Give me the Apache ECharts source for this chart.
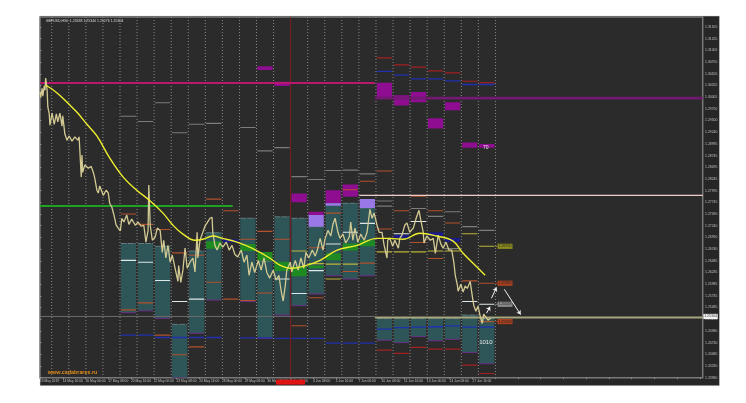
<!DOCTYPE html>
<html><head><meta charset="utf-8">
<style>html,body{margin:0;padding:0;background:#fff}#c{width:746px;height:403px}</style>
<script src="https://cdn.jsdelivr.net/npm/echarts@6/dist/echarts.min.js"></script>
</head><body><div id="c"></div>
<script>
const timeLabels=["13 May 2019","14 May 16:00","16 May 00:00","17 May 08:00","20 May 16:00","22 May 00:00","23 May 08:00","24 May 16:00","28 May 00:00","29 May 08:00","30 May 16:00","3 Jun 00:00","4 Jun 08:00","5 Jun 16:00","7 Jun 00:00","10 Jun 08:00","11 Jun 16:00","13 Jun 00:00","14 Jun 08:00","17 Jun 16:00"];
const priceLabels=["1.31505","1.31255","1.31005","1.30755","1.30505","1.30255","1.30005","1.29750","1.29500","1.29240","1.28995","1.28745","1.28495","1.28245","1.27995","1.27745","1.27490","1.27240","1.26990","1.26740","1.26485","1.26235","1.25985","1.25735","1.25485","1.25235","1.24980","1.24730","1.24480","1.24230","1.23980"];
const priceLine=[[0,1.3011],[1,1.3000],[3,1.3019],[4,1.3002],[6,1.3024],[7,1.3015],[8,1.3041],[10,1.3015],[11,1.2979],[13,1.2964],[14,1.2940],[17,1.2966],[20,1.2942],[23,1.2964],[25,1.2947],[28,1.2966],[31,1.2938],[32,1.2960],[35,1.2921],[38,1.2908],[41,1.2917],[45,1.2906],[49,1.2915],[53,1.2908],[55,1.2915],[56,1.2887],[58,1.2829],[59,1.2876],[60,1.2839],[63,1.2855],[68,1.2848],[72,1.2852],[75,1.2839],[77,1.2827],[80,1.2801],[82,1.2795],[84,1.2810],[89,1.2790],[93,1.2801],[96,1.2795],[98,1.2773],[101,1.2765],[104,1.2748],[107,1.2727],[110,1.2720],[113,1.2714],[115,1.2741],[118,1.2733],[122,1.2748],[125,1.2728],[129,1.2739],[134,1.2726],[138,1.2733],[142,1.2724],[146,1.2726],[149,1.2690],[152,1.2715],[153,1.2812],[155,1.2726],[158,1.2694],[162,1.2701],[165,1.2720],[169,1.2715],[172,1.2668],[174,1.2694],[177,1.2656],[180,1.2683],[183,1.2647],[186,1.2662],[190,1.2634],[194,1.2606],[195,1.2640],[198,1.2604],[201,1.2630],[204,1.2677],[207,1.2634],[211,1.2647],[215,1.2656],[218,1.2626],[221,1.2711],[222,1.2656],[225,1.2694],[229,1.2711],[232,1.2724],[235,1.2731],[239,1.2741],[242,1.2743],[243,1.2711],[246,1.2683],[249,1.2673],[253,1.2688],[257,1.2679],[262,1.2690],[266,1.2673],[270,1.2683],[274,1.2664],[278,1.2658],[283,1.2673],[287,1.2647],[291,1.2662],[294,1.2619],[298,1.2647],[302,1.2625],[307,1.2651],[311,1.2630],[315,1.2656],[319,1.2625],[323,1.2613],[328,1.2630],[332,1.2609],[336,1.2619],[339,1.2587],[342,1.2564],[345,1.2598],[347,1.2630],[352,1.2647],[354,1.2626],[359,1.2651],[363,1.2630],[367,1.2656],[371,1.2634],[374,1.2668],[378,1.2656],[383,1.2673],[387,1.2660],[390,1.2673],[394,1.2698],[398,1.2673],[401,1.2698],[405,1.2715],[409,1.2703],[412,1.2728],[415,1.2741],[419,1.2711],[422,1.2698],[426,1.2707],[430,1.2688],[435,1.2701],[437,1.2733],[440,1.2694],[443,1.2720],[447,1.2690],[451,1.2707],[456,1.2694],[460,1.2711],[463,1.2748],[464,1.2760],[467,1.2741],[470,1.2752],[474,1.2726],[477,1.2711],[481,1.2711],[484,1.2683],[488,1.2656],[489,1.2694],[492,1.2698],[496,1.2681],[499,1.2694],[504,1.2677],[506,1.2698],[509,1.2705],[513,1.2726],[516,1.2731],[520,1.2711],[525,1.2720],[529,1.2741],[533,1.2758],[536,1.2733],[539,1.2711],[540,1.2688],[544,1.2703],[549,1.2694],[553,1.2698],[556,1.2666],[560,1.2705],[564,1.2685],[567,1.2677],[571,1.2690],[575,1.2673],[579,1.2673],[582,1.2647],[584,1.2619],[587,1.2598],[588,1.2585],[592,1.2600],[595,1.2583],[598,1.2596],[601,1.2591],[605,1.2606],[608,1.2574],[610,1.2555],[613,1.2542],[616,1.2553],[619,1.2532],[622,1.2516],[624,1.2536],[626,1.2532],[630,1.2523],[634,1.2527]];
const movingAverage=[[8,1.3026],[24,1.3009],[42,1.2983],[53,1.2966],[66,1.2942],[80,1.2917],[98,1.2870],[117,1.2829],[136,1.2801],[155,1.2778],[173,1.2752],[187,1.2726],[201,1.2707],[218,1.2694],[229,1.2696],[243,1.2703],[257,1.2698],[277,1.2690],[298,1.2677],[323,1.2656],[338,1.2640],[352,1.2634],[370,1.2638],[394,1.2651],[418,1.2673],[446,1.2683],[474,1.2698],[492,1.2698],[511,1.2696],[534,1.2709],[558,1.2703],[581,1.2692],[595,1.2666],[619,1.2630],[626,1.2619]];
const tealBoxes=[[4,1.2687,1.2539],[5,1.2687,1.2543],[6,1.2681,1.2527],[7,1.2514,1.24],[8,1.2671,1.2495],[9,1.2710,1.2566],[11,1.2741,1.2563],[12,1.2649,1.2484],[13,1.2744,1.2534],[14,1.2741,1.2554],[15,1.2723,1.2579],[16,1.2773,1.2618],[17,1.2773,1.2611],[18,1.2763,1.2618],[19,1.2527,1.2480],[20,1.2527,1.2475],[21,1.2527,1.2488],[22,1.2527,1.2479],[23,1.2527,1.2482],[24,1.2534,1.2454],[25,1.2527,1.2430]];
const magentaBoxes=[[12,1.3066,1.3058],[13,1.3033,1.3024],[14,1.2794,1.2775],[15,1.2755,1.2748],[16,1.2801,1.2773],[17,1.2813,1.2787],[19,1.3031,1.2999],[20,1.3004,1.2982],[21,1.3011,1.2989],[22,1.2955,1.2933],[23,1.2989,1.2972],[24,1.2903,1.2892],[25,1.2900,1.2892]];
const violetBoxes=[[15,1.2748,1.2723],[16,1.2773,1.2768],[18,1.2782,1.2763]];
const greenBoxes=[[9,1.2692,1.2676],[11,1.2686,1.2671],[12,1.2669,1.2650],[13,1.2648,1.2628],[14,1.2638,1.2617],[15,1.2640,1.2634],[16,1.2666,1.2651],[17,1.2687,1.2672],[18,1.2694,1.2681]];
const navyBoxes=[[10,1.2696,1.2689],[20,1.2705,1.2698],[22,1.2711,1.2703],[23,1.2699,1.2690]];
const grayLevels=[[4,1.2959],[5,1.2948],[6,1.2988],[7,1.2924],[8,1.2942],[9,1.2944],[11,1.2935],[12,1.2885],[13,1.2892],[14,1.2830],[15,1.2824],[16,1.2843],[17,1.2844],[18,1.2836],[19,1.2778],[19,1.2767],[21,1.2762],[22,1.2745],[23,1.2755],[23,1.2676],[24,1.2723],[25,1.2715]];
const orangeLevels=[[4,1.2750],[5,1.2728],[6,1.2717],[7,1.2667],[8,1.2662],[9,1.2782],[10,1.2757],[11,1.2696],[12,1.2713],[4,1.2545],[5,1.2560],[9,1.2604],[10,1.2568],[11,1.2565],[12,1.2581],[6,1.2491],[7,1.2449],[8,1.2466],[13,1.2696],[14,1.2511],[15,1.2571],[15,1.2678],[16,1.2752],[17,1.2802],[17,1.2627],[18,1.2820],[18,1.2645],[19,1.2842],[19,1.2718],[20,1.2757],[21,1.2788],[21,1.2689],[22,1.2757],[22,1.2655],[23,1.2731],[24,1.2607],[25,1.2602],[25,1.2520]];
const whiteLevels=[[4,1.2651],[5,1.2647],[6,1.2608],[7,1.2563],[8,1.2568],[13,1.2611],[14,1.2580],[15,1.2629],[16,1.2686],[17,1.2711],[18,1.2730],[20,1.2708],[21,1.2734],[24,1.2563],[25,1.2557]];
const yellowLevels=[[16,1.2611],[14,1.2671],[15,1.2644],[16,1.2643],[17,1.2643],[19,1.2669],[20,1.2669],[21,1.2669],[22,1.2671],[23,1.2671],[24,1.2708],[25,1.2681]];
const redLevels=[[19,1.3084],[20,1.3069],[21,1.3064],[22,1.3056],[23,1.3052],[24,1.3034],[25,1.3031],[19,1.2459],[20,1.2452],[21,1.2465],[22,1.2461],[23,1.2461],[24,1.2427],[25,1.2409]];
const blueLevels=[[19,1.3055],[20,1.3047],[21,1.3039],[22,1.3039],[23,1.3035],[24,1.3027],[25,1.3027],[19,1.2504],[20,1.2507],[21,1.2508],[22,1.2509],[23,1.2511],[24,1.2508],[25,1.2508],[4,1.2491],[5,1.2491],[6,1.2486],[7,1.2486],[8,1.2486],[9,1.2486],[11,1.2485],[12,1.2485],[13,1.2484],[14,1.2484],[15,1.2484],[16,1.2474],[17,1.2474],[18,1.2474]];
const dayColumns=[0,1,2,3,4,5,6,7,8,9,10,11,12,13,15,16,17,18,19,20,21,22,23,24,25,26];
const redColumn=[14];
const pinkLine=[[0,1.3030],[471,1.3030]];
const purpleLine=[[471,1.2998],[932,1.2998]];
const paleLine=[[449,1.2790],[932,1.2790]];
const greenLine=[[0,1.2767],[271,1.2767]];
const grayLine=[[0,1.2531],[471,1.2531]];
const oliveLine=[[471,1.2529],[932,1.2529]];
const tags=[[654,1.2681,"1.26750","#8c8c1e","#222"],[654,1.2602,"1.25990","#a8401f","#222"],[654,1.2557,"1.25559","#8a8a8a","#222"],[654,1.2520,"1.25159","#a8401f","#222"],[943,1.2531,"1.25304","#f2f2f2","#333"]];
const arrowLines=[[635,1.2570,642,1.2593],[628,1.2538,633,1.2552],[653,1.2589,676,1.2535]];
const notes=[[627,1.2476,"1010",6,"#e8e8e8","center"],[627,1.2891,"70",5,"#e8e8e8","center"],[11,1.2412,"www.cadabrarex.ru",5.4,"#e08c1a","left"],[8,1.3163,"GBPUSD,H30  1.25338 1.25340 1.25276 1.25304",3.5,"#dddddd","left"]];
const FONT='"Liberation Sans",Arial,sans-serif';
const colHour=c=>16.5+24*c;
function boxSeries(data,color,edge){return {type:'custom',silent:true,clip:true,data,encode:{x:0,y:1},renderItem(p,api){
  const c=api.value(0);const a=api.coord([colHour(c)+1.2,api.value(1)]);const b=api.coord([colHour(c)+22.6,api.value(2)]);
  const kids=[{type:'rect',shape:{x:a[0],y:a[1],width:b[0]-a[0],height:b[1]-a[1]},style:{fill:color}}];
  if(edge){kids.push({type:'line',shape:{x1:a[0],y1:b[1],x2:b[0],y2:b[1]},style:{stroke:edge,lineWidth:1}});
    kids.push({type:'line',shape:{x1:a[0],y1:a[1],x2:b[0],y2:a[1]},style:{stroke:'#6f8a8c',lineWidth:.8,lineDash:[6,1]}});}
  return {type:'group',children:kids};}};}
function levelSeries(data,color,width){return {type:'custom',silent:true,clip:true,data,encode:{x:0,y:1},renderItem(p,api){
  const c=api.value(0);const a=api.coord([colHour(c)+1.2,api.value(1)]);const b=api.coord([colHour(c)+22.6,api.value(1)]);
  return {type:'line',shape:{x1:a[0],y1:a[1],x2:b[0],y2:b[1]},style:{stroke:color,lineWidth:width}};}};}
function columnSeries(data,style){return {type:'custom',silent:true,clip:true,data:data.map(c=>[c]),encode:{x:0},renderItem(p,api){
  const x=api.coord([colHour(api.value(0)),1.27])[0];
  return {type:'line',shape:{x1:x,y1:p.coordSys.y,x2:x,y2:p.coordSys.y+p.coordSys.height},style};}};}
function lineSeries(data,color,width,extra){return Object.assign({type:'line',silent:true,data,showSymbol:false,symbol:'none',lineStyle:{color,width},animation:false},extra||{});}
const series=[
  columnSeries(dayColumns,{stroke:'#8a8a8a',lineWidth:1,lineDash:[1,2]}),
  columnSeries(redColumn,{stroke:'#7c1f1f',lineWidth:1}),
  boxSeries(tealBoxes,'#2e5558','#6a2f86'),
  boxSeries(greenBoxes,'#1f8a22'),
  boxSeries(navyBoxes,'#1b1b86'),
  boxSeries(magentaBoxes,'#8e0d90'),
  boxSeries(violetBoxes,'#9a78e6'),
  levelSeries(grayLevels,'#7d7d7d',1.1),
  levelSeries(orangeLevels,'#b2512c',1.1),
  levelSeries(whiteLevels,'#dfe8ea',1.1),
  levelSeries(yellowLevels,'#bdb53a',1.1),
  levelSeries(redLevels,'#a32020',1.2),
  levelSeries(blueLevels,'#2030b0',1.3),
  lineSeries(pinkLine,'#b8186e',2),
  lineSeries(purpleLine,'#701a70',2.6),
  lineSeries(paleLine,'#f0cccc',1.4),
  lineSeries(greenLine,'#1fa324',2),
  lineSeries(grayLine,'#6c6c6c',1),
  lineSeries(oliveLine,'#a6a67e',2),
  lineSeries(priceLine,'#d2ca92',1.3),
  lineSeries(movingAverage,'#eeee30',1.4,{smooth:.4}),
  {type:'custom',silent:true,clip:false,data:tags,encode:{x:0,y:1},renderItem(p,api){
    const c=api.coord([api.value(0),api.value(1)]);const t=tags[p.dataIndex];const w=t[0]>900?14.4:15;
    const kids=[{type:'rect',shape:{x:c[0]-w/2,y:c[1]-2.6,width:w,height:5.2},style:{fill:t[3]}},
      {type:'text',style:{x:c[0],y:c[1],text:t[2],fill:t[4],font:'3.5px '+FONT,align:'center',verticalAlign:'middle'}}];
    if(t[0]<900){const e=api.coord([colHour(26),t[1]]);kids.unshift({type:'line',shape:{x1:e[0],y1:c[1],x2:c[0]-w/2,y2:c[1]},style:{stroke:t[3],lineWidth:1}});}
    return {type:'group',children:kids};}},
  {type:'custom',silent:true,clip:false,data:notes,encode:{x:0,y:1},renderItem(p,api){
    const c=api.coord([api.value(0),api.value(1)]);const n=notes[p.dataIndex];
    return {type:'text',style:{x:c[0],y:c[1],text:n[2],fill:n[4],font:(n[3]>5.2&&n[5]=='left'?'bold ':'')+n[3]+'px '+FONT,align:n[5],verticalAlign:'middle'}};}},
  {type:'line',silent:true,data:[],markLine:{silent:true,animation:false,symbol:['none','arrow'],symbolSize:4,label:{show:false},lineStyle:{color:'#f2f2f2',width:1,type:'solid'},
    data:arrowLines.map(a=>[{coord:[a[0],a[1]]},{coord:[a[2],a[3]]}])}}
];
const chart=echarts.init(document.getElementById('c'),null,{renderer:'canvas'});
chart.setOption({
  animation:false,backgroundColor:'#ffffff',
  graphic:[
    {type:'rect',z:-10,silent:true,shape:{x:40,y:16,width:679.5,height:369.7},style:{fill:'#262626',stroke:'#d8d8d8',lineWidth:.5}},
    {type:'rect',z:-9,silent:true,shape:{x:40,y:17,width:662.7,height:360.7},style:{fill:'#2b2b2b'}},
    {type:'rect',z:100,silent:true,shape:{x:276,y:379.6,width:29,height:5},style:{fill:'#e01212'}}
  ],
  grid:{show:true,left:40,top:17,width:662.7,height:360.7,backgroundColor:'transparent',borderColor:'#7a7a7a',borderWidth:1.5},
  xAxis:{type:'value',min:0,max:932,interval:32,splitLine:{show:false},axisLine:{show:false},
    axisTick:{show:true,length:1.5,lineStyle:{color:'#a0a0a0',width:.7}},
    axisLabel:{show:true,showMinLabel:true,showMaxLabel:false,hideOverlap:false,margin:2.2,color:'#c0c0c0',fontSize:3.3,fontFamily:'Liberation Sans',align:'left',
      formatter:v=>timeLabels[Math.round(v/32)]||''}},
  yAxis:{type:'value',position:'right',min:1.24,max:1.31714,interval:0.0025,splitLine:{show:false},axisLine:{show:false},
    axisTick:{show:true,length:1.5,lineStyle:{color:'#a0a0a0',width:.7}},
    axisLabel:{show:true,showMinLabel:true,showMaxLabel:false,hideOverlap:false,margin:2.4,color:'#c0c0c0',fontSize:3.4,fontFamily:'Liberation Sans',align:'left',
      formatter:v=>priceLabels[Math.round((1.315-v)/0.0025)]||''}},
  series
});
</script></body></html>
